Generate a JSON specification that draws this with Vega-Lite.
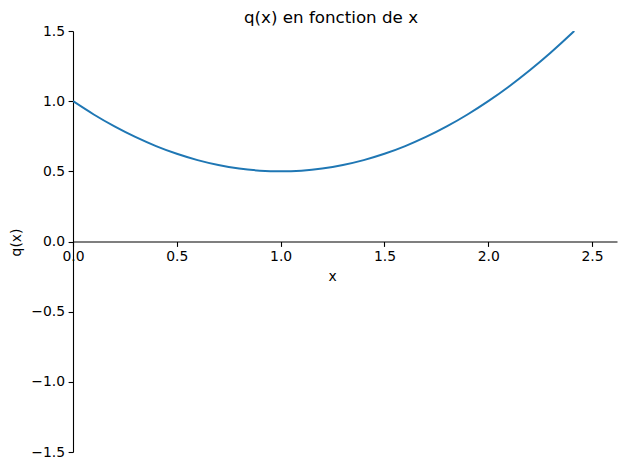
{
  "$schema": "https://vega.github.io/schema/vega-lite/v6.json",
  "width": 544,
  "height": 421,
  "autosize": {"type": "none"},
  "padding": {"left": 73, "top": 31, "right": 9, "bottom": 18},
  "background": "white",
  "config": {
    "view": {"stroke": null},
    "font": "DejaVu Sans",
    "axis": {
      "grid": false,
      "domainColor": "black",
      "domainWidth": 1.1,
      "tickColor": "black",
      "tickWidth": 1.1,
      "tickSize": 4.9,
      "labelFont": "DejaVu Sans",
      "labelFontSize": 13.9,
      "labelColor": "black",
      "labelPadding": 3.5,
      "labelFlush": false,
      "labelOverlap": false,
      "titleFont": "DejaVu Sans",
      "titleFontSize": 13.9,
      "titleFontWeight": "normal",
      "titleColor": "black"
    }
  },
  "title": {
    "text": "q(x) en fonction de x",
    "font": "DejaVu Sans",
    "fontSize": 16.7,
    "fontWeight": "normal",
    "color": "black",
    "anchor": "middle",
    "dx": -14,
    "dy": 24,
    "baseline": "bottom",
    "offset": 4.5
  },
  "data": {
    "values": [
      {"x": 0.0, "q": 1.0},
      {"x": 0.1, "q": 0.905},
      {"x": 0.2, "q": 0.82},
      {"x": 0.3, "q": 0.745},
      {"x": 0.4, "q": 0.68},
      {"x": 0.5, "q": 0.625},
      {"x": 0.6, "q": 0.58},
      {"x": 0.7, "q": 0.545},
      {"x": 0.8, "q": 0.52},
      {"x": 0.9, "q": 0.505},
      {"x": 1.0, "q": 0.5},
      {"x": 1.1, "q": 0.505},
      {"x": 1.2, "q": 0.52},
      {"x": 1.3, "q": 0.545},
      {"x": 1.4, "q": 0.58},
      {"x": 1.5, "q": 0.625},
      {"x": 1.6, "q": 0.68},
      {"x": 1.7, "q": 0.745},
      {"x": 1.8, "q": 0.82},
      {"x": 1.9, "q": 0.905},
      {"x": 2.0, "q": 1.0},
      {"x": 2.1, "q": 1.105},
      {"x": 2.2, "q": 1.22},
      {"x": 2.3, "q": 1.345},
      {"x": 2.4, "q": 1.48},
      {"x": 2.4142, "q": 1.5}
    ]
  },
  "mark": {"type": "line", "color": "#1f77b4", "strokeWidth": 2, "clip": true, "interpolate": "monotone"},
  "encoding": {
    "x": {
      "field": "x",
      "type": "quantitative",
      "scale": {"domain": [0, 2.62], "nice": false, "zero": false},
      "axis": {
        "orient": "bottom",
        "offset": -210.5,
        "values": [0, 0.5, 1, 1.5, 2, 2.5],
        "format": ".1f",
        "title": "x",
        "titleX": 259,
        "titleY": 38.5,
        "titleBaseline": "alphabetic",
        "titleAnchor": null
      }
    },
    "y": {
      "field": "q",
      "type": "quantitative",
      "scale": {"domain": [-1.5, 1.5], "nice": false, "zero": false},
      "axis": {
        "orient": "left",
        "values": [-1.5, -1, -0.5, 0, 0.5, 1, 1.5],
        "format": ".1f",
        "title": "q(x)",
        "titleAngle": -90,
        "titleX": -56.5,
        "titleY": 211,
        "titleBaseline": "middle",
        "titleAlign": "center"
      }
    }
  }
}
